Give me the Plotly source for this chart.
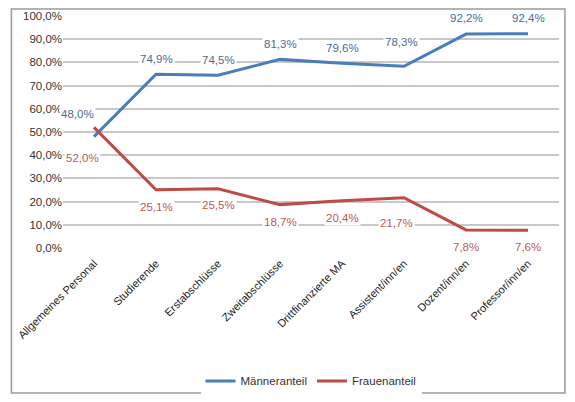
import plotly.graph_objects as go

categories = ["Allgemeines Personal", "Studierende", "Erstabschlüsse", "Zweitabschlüsse",
              "Drittfinanzierte MA", "Assistent/inn/en", "Dozent/inn/en", "Professor/inn/en"]
maenner = [48.0, 74.9, 74.5, 81.3, 79.6, 78.3, 92.2, 92.4]
frauen = [52.0, 25.1, 25.5, 18.7, 20.4, 21.7, 7.8, 7.6]
y_ticks = [0, 10, 20, 30, 40, 50, 60, 70, 80, 90, 100]

BLUE = "#4a7ebb"
RED = "#be4b48"
FONT = "Liberation Sans"

# label nudges (px) to mimic the Excel placement
m_shift = [(-17, 23), (0, 15), (0, 15), (0, 15), (0, 15), (-3, 24), (0, 16), (0, 16)]
f_shift = [(-12, -31), (0, -17), (0, -16), (0, -17), (0, -17), (-8, -25), (0, -17), (0, -17)]


def fmt(v):
    return f"{v:.1f}".replace(".", ",") + "%"


fig = go.Figure()
fig.add_trace(go.Scatter(x=categories, y=maenner, mode="lines", name="Männeranteil",
                         line=dict(color=BLUE, width=3)))
fig.add_trace(go.Scatter(x=categories, y=frauen, mode="lines", name="Frauenanteil",
                         line=dict(color=RED, width=3)))

# data labels with white background (like Excel)
for c, m, f, ms, fs in zip(categories, maenner, frauen, m_shift, f_shift):
    fig.add_annotation(x=c, y=m, text=fmt(m), showarrow=False, xshift=ms[0], yshift=ms[1],
                       bgcolor="white", borderpad=1,
                       font=dict(family=FONT, size=11.5, color="#4d6b94"))
    fig.add_annotation(x=c, y=f, text=fmt(f), showarrow=False, xshift=fs[0], yshift=fs[1],
                       bgcolor="white", borderpad=1,
                       font=dict(family=FONT, size=11.5, color="#bb5a56"))

# outer chart border (page has 8px body margin, so figure is 559x386)
fig.add_shape(type="rect", xref="paper", yref="paper",
              x0=-0.104, x1=1.012, y0=-0.625, y1=1.03,
              line=dict(color="#9a9a9a", width=1.5), fillcolor="rgba(0,0,0,0)")

fig.update_layout(
    width=559, height=386,
    margin=dict(l=55, r=8, t=8, b=146, autoexpand=False),
    paper_bgcolor="white", plot_bgcolor="white",
    showlegend=True,
    legend=dict(orientation="h", x=0.5, xanchor="center", y=-0.573, yanchor="middle",
                font=dict(family=FONT, size=11.5, color="#333333")),
    font=dict(family=FONT, size=11.5, color="#333333"),
)
fig.update_xaxes(tickangle=-45, showgrid=False, showline=False, ticks="", automargin=False,
                 range=[-0.5, len(categories) - 0.5], ticklabelstandoff=6,
                 tickfont=dict(family=FONT, size=11, color="#222222"))
fig.update_yaxes(range=[0, 100], tickvals=y_ticks, ticktext=[fmt(v) for v in y_ticks],
                 automargin=False, showgrid=True, gridcolor="#c8c8c8", gridwidth=1.5,
                 zeroline=False, tickfont=dict(family=FONT, size=11.5, color="#333333"))

fig.write_html("out.html")
